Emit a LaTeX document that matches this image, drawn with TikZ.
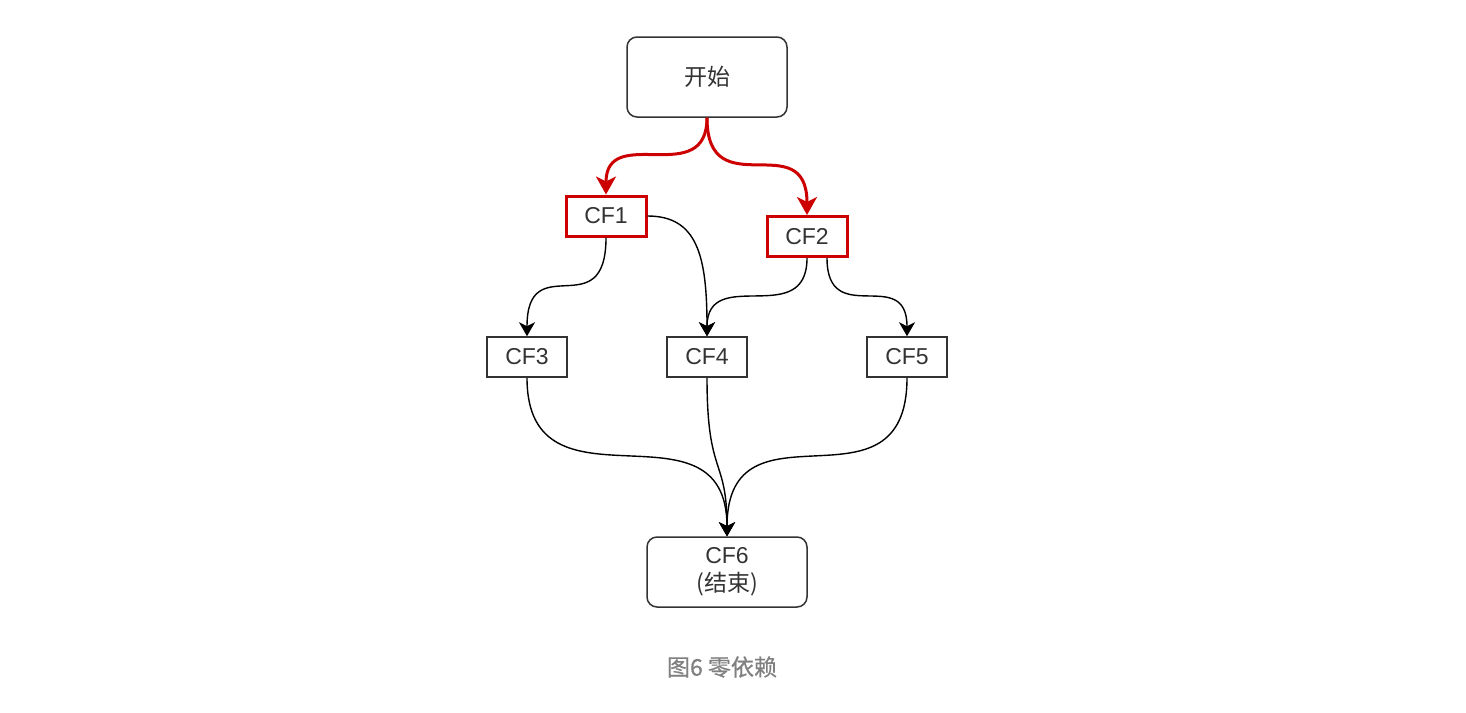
\documentclass[tikz,border=0pt]{standalone}
\usepackage{fontspec}
\setmainfont{Liberation Sans}
\newfontfamily\cjk{Noto Sans CJK SC}
\newfontfamily\cjkcaption{Noto Sans CJK SC}[FakeBold=0.6]
\usetikzlibrary{arrows.meta}
\definecolor{flowRed}{RGB}{204,0,0}
\definecolor{lineGray}{RGB}{51,51,51}
\definecolor{captionGray}{RGB}{128,128,128}
\tikzstyle{roundBox}=[shape = rectangle, rounded corners = 5pt, minimum width = 80pt, minimum height = 40pt, line width = 0.75pt, draw = lineGray, text = lineGray, inner sep = 0pt, align = center, font = \fontsize{11.5}{14}\selectfont]
\tikzstyle{plainBox}=[shape = rectangle, minimum width = 40pt, minimum height = 20pt, line width = 0.75pt, draw = lineGray, text = lineGray, inner sep = 0pt, font = \fontsize{11.5}{14}\selectfont]
\tikzstyle{redBox}=[plainBox, draw = flowRed, line width = 1.5pt]

\begin{document}
\begin{tikzpicture}[x = 0.5pt, y = -0.5pt]
\tikzstyle{redEdge}=[draw = flowRed, line width = 1.5pt, -{Stealth[length = 9pt, width = 10pt, inset = 2.5pt]}]
\tikzstyle{blackEdge}=[draw = black, line width = 0.7pt, -{Stealth[length = 7pt, width = 8pt, inset = 2pt]}]
\useasboundingbox (0,0) rectangle (1466,712);
\node[roundBox] (start) at (707,77) {\cjk 开始};
\node[redBox] (cf1) at (606,216) {CF1};
\node[redBox] (cf2) at (807,236.5) {CF2};
\node[plainBox] (cf3) at (527,357) {CF3};
\node[plainBox] (cf4) at (707,357) {CF4};
\node[plainBox] (cf5) at (907,357) {CF5};
\node[roundBox, minimum height = 35pt] (cf6) at (727,572) {CF6\\{\cjk (结束)}};
\node[text = captionGray, font = \fontsize{11.5}{14}\selectfont\cjkcaption] (caption) at (722,667) {图6 零依赖};
\draw[redEdge] (start.south) .. controls +(0,72) and +(0,-72) .. (cf1.north);
\draw[redEdge] (start.south) .. controls +(0,90) and +(0,-90) .. (cf2.north);
\draw[blackEdge] (cf1.south) .. controls +(0,90) and +(0,-90) .. (cf3.north);
\draw[blackEdge] (cf1.east) .. controls +(50,0) and +(0,-80) .. (cf4.north);
\draw[blackEdge] (cf2.south) .. controls +(0,72) and +(0,-72) .. (cf4.north);
\draw[blackEdge] ([xshift = 10pt]cf2.south) .. controls +(0,72) and +(0,-72) .. (cf5.north);
\draw[blackEdge] (cf3.south) .. controls +(0,145) and +(0,-145) .. (cf6.north);
\draw[blackEdge] (cf4.south) .. controls +(0,100) and +(0,-80) .. (cf6.north);
\draw[blackEdge] (cf5.south) .. controls +(0,145) and +(0,-145) .. (cf6.north);
\end{tikzpicture}
\end{document}
